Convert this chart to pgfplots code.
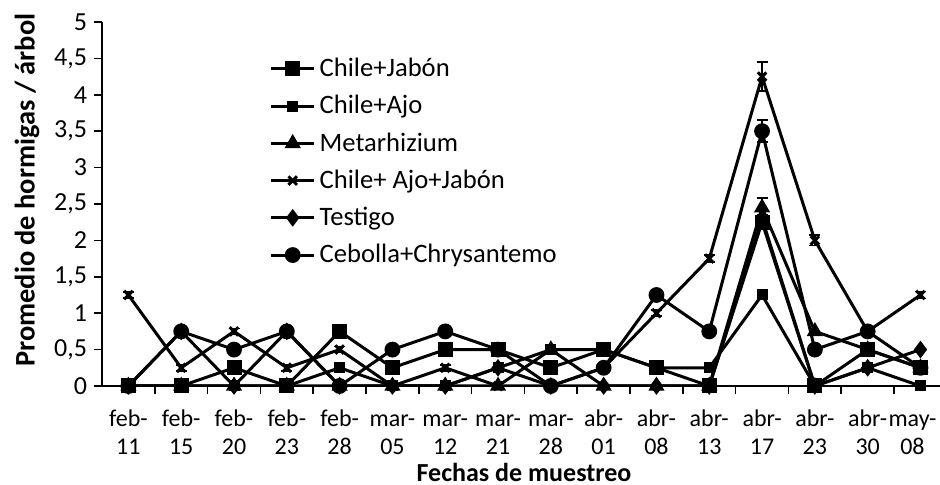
\documentclass[border=0pt]{standalone}
\usepackage{fontspec}
\setmainfont{Carlito}
\usepackage{pgfplots}
\pgfplotsset{compat=1.18}
\usetikzlibrary{calc}
\newcommand{\tl}[2]{\strut #1\\\strut #2}
\begin{document}
\begin{tikzpicture}
\begin{axis}[
 name=ax,
 scale only axis, width=419pt, height=182pt,
 xmin=-0.5, xmax=15.37, ymin=0, ymax=5,
 axis lines*=left,
 axis line style={line width=1pt, -},
 tick align=outside,
 tick style={black, line width=0.8pt},
 major tick length=4pt, minor tick length=4pt,
 xtick={0,...,15},
 xticklabels={\tl{feb-}{11},\tl{feb-}{15},\tl{feb-}{20},\tl{feb-}{23},\tl{feb-}{28},\tl{mar-}{05},\tl{mar-}{12},\tl{mar-}{21},\tl{mar-}{28},\tl{abr-}{01},\tl{abr-}{08},\tl{abr-}{13},\tl{abr-}{17},\tl{abr-}{23},\tl{abr-}{30},\tl{\hspace*{-8pt}may-}{\hspace*{-8pt}08}},
 major x tick style={draw=none},
 minor xtick={0.5,1.5,...,14.5},
 xticklabel style={align=center, font=\fontsize{12}{14}\selectfont, yshift=-3pt},
 ytick={0,0.5,...,5},
 yticklabel style={font=\fontsize{13}{15}\selectfont, /pgf/number format/use comma, /pgf/number format/fixed, /pgf/number format/precision=1, /pgf/number format/assume math mode=true},
 xlabel={\bfseries Fechas de muestreo},
 ylabel={\bfseries Promedio de hormigas / árbol},
 xlabel style={font=\fontsize{13}{15}\selectfont, at={(axis description cs:0.5036,-0.262)}, anchor=base},
 ylabel style={font=\fontsize{14.2}{16}\selectfont, at={(axis description cs:-0.0895,0.538)}, anchor=center},
 legend style={at={(0.1925,0.924)}, anchor=north west, draw=none, fill=none, row sep=3.9pt, font=\fontsize{13.3}{15}\selectfont},
 legend cell align=left,
 legend image code/.code={\draw[mark repeat=2,mark phase=2,#1] plot coordinates {(0pt,0pt) (10.75pt,0pt) (21.5pt,0pt)};},
 every axis plot/.append style={black, line width=1.5pt},
 error bars/y dir=both, error bars/y explicit,
 error bars/error mark options={rotate=90, mark size=2.75pt, line width=0.8pt},
 error bars/error bar style={line width=0.8pt},
]
\addplot[mark=square*, mark size=3pt] coordinates {(0,0) (1,0) (2,0.25) (3,0) (4,0.75) (5,0.25) (6,0.5) (7,0.5) (8,0.25) (9,0.5) (10,0.25) (11,0) (12,2.25) +- (0,0.1) (13,0) (14,0.5) (15,0.25)};
\addlegendentry{Chile+Jabón}
\addplot[mark=square*, mark size=2pt] coordinates {(0,0) (1,0) (2,0) (3,0) (4,0.25) (5,0) (6,0) (7,0.25) (8,0.5) (9,0.5) (10,0.25) (11,0.25) (12,1.25) +- (0,0.04) (13,0) (14,0.25) (15,0)};
\addlegendentry{Chile+Ajo}
\addplot[mark=triangle*, mark size=3.2pt] coordinates {(0,0) (1,0) (2,0) (3,0) (4,0) (5,0) (6,0) (7,0) (8,0.5) (9,0) (10,0) (11,0) (12,2.45) +- (0,0.13) (13,0.75) (14,0.5) (15,0.25)};
\addlegendentry{Metarhizium}
\addplot[mark=x, mark size=3pt] coordinates {(0,1.25) +- (0,0.04) (1,0.25) +- (0,0.04) (2,0.75) +- (0,0.04) (3,0.25) +- (0,0.04) (4,0.5) +- (0,0.04) (5,0) (6,0.25) +- (0,0.04) (7,0) (8,0) (9,0.25) (10,1.0) +- (0,0.04) (11,1.75) +- (0,0.05) (12,4.25) +- (0,0.2) (13,2.0) +- (0,0.07) (14,0.75) (15,1.25) +- (0,0.05)};
\addlegendentry{Chile+ Ajo+Jabón}
\addplot[mark=diamond*, mark size=3.2pt] coordinates {(0,0) (1,0.75) (2,0) (3,0.75) (4,0) (5,0) (6,0) (7,0.25) (8,0) (9,0) (10,0) (11,0) (12,2.3) (13,0) (14,0.25) (15,0.5)};
\addlegendentry{Testigo}
\addplot[mark=*, mark size=3.2pt] coordinates {(0,0) (1,0.75) (2,0.5) (3,0.75) (4,0) (5,0.5) (6,0.75) (7,0.5) (8,0) (9,0.25) (10,1.25) (11,0.75) (12,3.5) +- (0,0.15) (13,0.5) (14,0.75) (15,0.25)};
\addlegendentry{Cebolla+Chrysantemo}
\end{axis}
\pgfresetboundingbox
\path ($(ax.south west)+(-51pt,-49.5pt)$) rectangle ($(ax.south west)+(419pt,193pt)$);
\end{tikzpicture}
\end{document}
